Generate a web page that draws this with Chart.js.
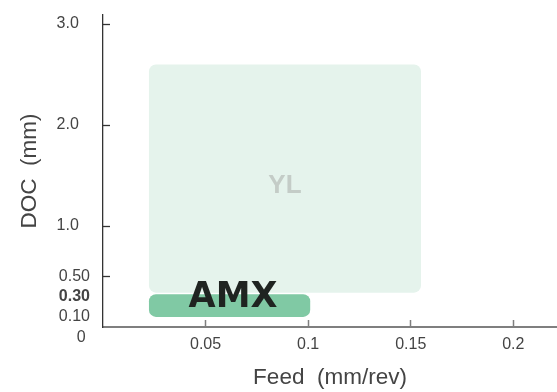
<!DOCTYPE html>
<html>
<head>
<meta charset="utf-8">
<script src="https://cdn.jsdelivr.net/npm/chart.js@4/dist/chart.umd.min.js"></script>
<style>
  html, body { margin: 0; padding: 0; background: #fff; }
  canvas { display: block; }
</style>
</head>
<body>
<canvas id="myChart" width="557" height="392"></canvas>
<script>
// regions (feed in mm/rev, DOC in mm)
const regionNames = ["YL", "AMX"];
const feedFrom = [0.0224, 0.0224];
const feedTo = [0.155, 0.101];
const docFrom = [0.34, 0.10];
const docTo = [2.6, 0.325];
// where each name sits (text baseline), in data units
const labelFeed = [0.0887, 0.0634];
const labelDoc = [1.33, 0.2];

const xTicks = [0.05, 0.1, 0.15, 0.2];
const xTickLabels = ["0.05", "0.1", "0.15", "0.2"];
const yTicks = [0, 0.1, 0.3, 0.5, 1, 2, 3];
const yTickLabels = ["0", "0.10", "0.30", "0.50", "1.0", "2.0", "3.0"];

const fillColors = ["#e5f3ec", "#80c9a4"];
const textColors = ["#c4ccc7", "#1f2421"];
const textFonts = ["bold 26px 'Liberation Sans'", "bold 35px 'DejaVu Sans'"];

const regionPlugin = {
  id: "regions",
  beforeDatasetsDraw(chart) {
    const ctx = chart.ctx;
    const x = chart.scales.x;
    const y = chart.scales.y;
    ctx.save();
    regionNames.forEach((name, i) => {
      const x1 = x.getPixelForValue(feedFrom[i]);
      const x2 = x.getPixelForValue(feedTo[i]);
      const y1 = y.getPixelForValue(docTo[i]);
      const y2 = y.getPixelForValue(docFrom[i]);
      ctx.fillStyle = fillColors[i];
      ctx.beginPath();
      ctx.roundRect(x1, y1, x2 - x1, y2 - y1, 7);
      ctx.fill();
    });
    regionNames.forEach((name, i) => {
      ctx.font = textFonts[i];
      ctx.fillStyle = textColors[i];
      ctx.textAlign = "center";
      ctx.textBaseline = "alphabetic";
      ctx.fillText(name, x.getPixelForValue(labelFeed[i]), y.getPixelForValue(labelDoc[i]));
    });
    ctx.restore();
  },
};

var ctx = document.getElementById("myChart").getContext("2d");

var myChart = new Chart(ctx, {
  type: "scatter",
  data: { datasets: [] },
  options: {
    responsive: false,
    animation: false,
    layout: { padding: { top: 15, right: 0, left: 0, bottom: 0 } },
    plugins: { legend: { display: false }, tooltip: { enabled: false } },
    scales: {
      x: {
        type: "linear",
        min: 0,
        max: 0.2213,
        afterBuildTicks: (axis) => {
          axis.ticks = xTicks.map((v) => ({ value: v }));
        },
        afterFit: (axis) => {
          axis.height = 65;
          axis.paddingLeft = 0;
          axis.paddingRight = 0;
        },
        border: { color: "#7f7f7f", width: 2 },
        grid: {
          drawOnChartArea: false,
          drawTicks: true,
          tickLength: -7,
          tickColor: "#7f7f7f",
          tickWidth: 1.5,
        },
        ticks: {
          autoSkip: false,
          maxRotation: 0,
          padding: 15,
          color: "#444",
          font: { family: "'Liberation Sans'", size: 16 },
          callback: (value) => xTickLabels[xTicks.indexOf(value)],
        },
        title: {
          display: true,
          text: "Feed  (mm/rev)",
          color: "#444",
          font: { family: "'Liberation Sans'", size: 22.5 },
          padding: { top: 0, bottom: 1 },
        },
      },
      y: {
        type: "linear",
        min: 0,
        max: 3.09,
        afterBuildTicks: (axis) => {
          // the "0" label sits a little under the axis line
          axis.ticks = yTicks.map((v) => ({ value: v === 0 ? -0.1 : v }));
        },
        afterFit: (axis) => {
          axis.width = 103;
          axis.paddingTop = 0;
          axis.paddingBottom = 0;
        },
        border: { color: "#333", width: 1.3 },
        grid: {
          drawOnChartArea: false,
          drawTicks: true,
          tickLength: -7,
          tickWidth: 1.3,
          tickColor: (c) => (c.tick && c.tick.value >= 0.5 ? "#333" : "rgba(0,0,0,0)"),
        },
        ticks: {
          autoSkip: false,
          padding: 20,
          color: "#444",
          font: (c) => ({
            family: "'Liberation Sans'",
            size: 16,
            weight: c.tick && c.tick.value === 0.3 ? "bold" : "normal",
          }),
          callback: (value) => {
            const v = value < 0 ? 0 : value;
            const label = yTickLabels[yTicks.indexOf(v)];
            // labels in the original are not all flush right
            if (v >= 1) return label + "\u2002\u2009";
            if (v === 0) return label + " ";
            return label;
          },
        },
        title: {
          display: true,
          text: "DOC  (mm)",
          color: "#444",
          font: { family: "'Liberation Sans'", size: 22.5 },
          padding: { top: 16, bottom: 0 },
        },
      },
    },
  },
  plugins: [regionPlugin],
});
</script>
</body>
</html>
